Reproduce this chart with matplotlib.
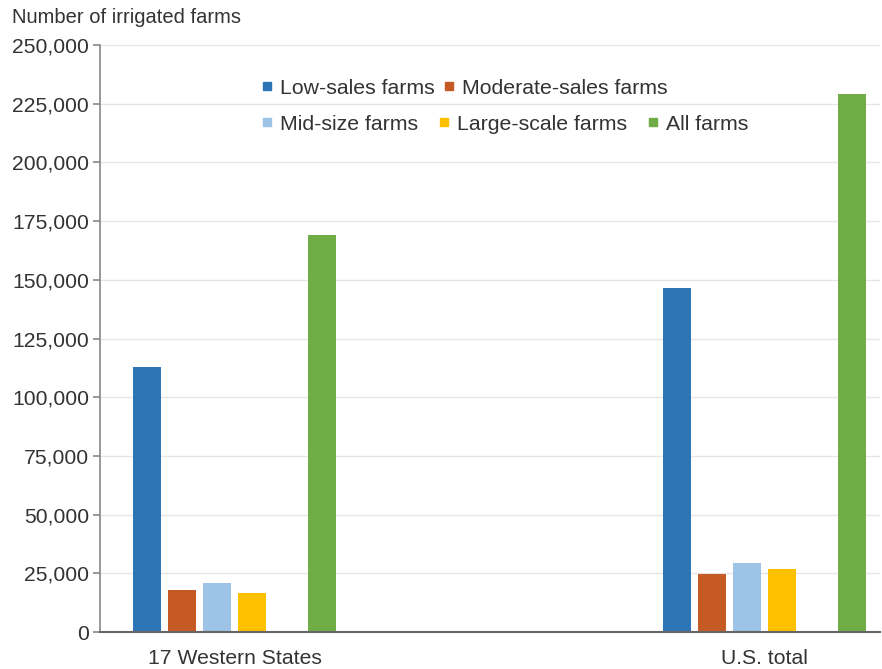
import matplotlib
matplotlib.use('Agg')
import matplotlib.pyplot as plt
from matplotlib.lines import Line2D

plt.rcParams['font.family'] = ['Liberation Sans', 'DejaVu Sans']

regions = ['17 Western States', 'U.S. total']
series = ['Low-sales farms', 'Moderate-sales farms', 'Mid-size farms',
          'Large-scale farms', 'All farms']
low_sales = [113000, 146500]
moderate_sales = [18000, 24700]
mid_size = [21000, 29400]
large_scale = [16700, 26800]
all_farms = [169000, 229000]
yticks = list(range(0, 250001, 25000))

colors = ['#2E75B6', '#C55A24', '#9DC3E6', '#FFC000', '#70AD47']
values = [low_sales, moderate_sales, mid_size, large_scale, all_farms]
slots = [0, 1, 2, 3, 5]   # empty slot before "All farms"
group_step = 15.11
text_col = '#333333'

fig = plt.figure(figsize=(8.82, 6.69), dpi=100)
ax = fig.add_axes([0.1134, 0.0553, 0.8843, 0.8774])

for vals, slot, col in zip(values, slots, colors):
    xs = [g * group_step + slot for g in range(len(regions))]
    ax.bar(xs, vals, width=0.8, color=col, zorder=3)

ax.set_xlim(-1.34, group_step + 5 + 0.8)
ax.set_ylim(0, 250000)
ax.set_yticks(yticks)
ax.set_yticklabels([f'{v:,}' for v in yticks])
ax.set_xticks([g * group_step + 2.5 for g in range(len(regions))])
ax.set_xticklabels(regions)

ax.grid(axis='y', color='#e6e6e6', linewidth=1, zorder=0)
for s in ['top', 'right']:
    ax.spines[s].set_visible(False)
ax.spines['left'].set_color('#888888')
ax.spines['left'].set_linewidth(1.2)
ax.spines['bottom'].set_color('#666666')
ax.spines['bottom'].set_linewidth(1.5)
ax.spines['bottom'].set_zorder(4)
ax.tick_params(axis='y', length=5, width=1.2, color='#888888', pad=3,
               labelsize=15.2, labelcolor=text_col)
ax.tick_params(axis='x', length=0, pad=12, labelsize=15.2, labelcolor=text_col)

fig.text(0.014, 0.988, 'Number of irrigated farms', fontsize=14.5,
         color=text_col, va='top', ha='left')

handles = [Line2D([], [], marker='s', linestyle='None', markersize=6,
                  color=c) for c in colors]
leg_kw = dict(frameon=False, handlelength=0.6, handletextpad=0.3,
              borderpad=0, borderaxespad=0,
              fontsize=15.3, labelcolor=text_col, loc='center left')
leg1 = fig.legend(handles[:2], series[:2], ncol=2, columnspacing=0.37,
                  bbox_to_anchor=(0.296, 1 - 88 / 669), **leg_kw)
leg2 = fig.legend(handles[2:], series[2:], ncol=3, columnspacing=0.93,
                  bbox_to_anchor=(0.296, 1 - 124 / 669), **leg_kw)

fig.savefig('out.png', dpi=100)
plt.close()
